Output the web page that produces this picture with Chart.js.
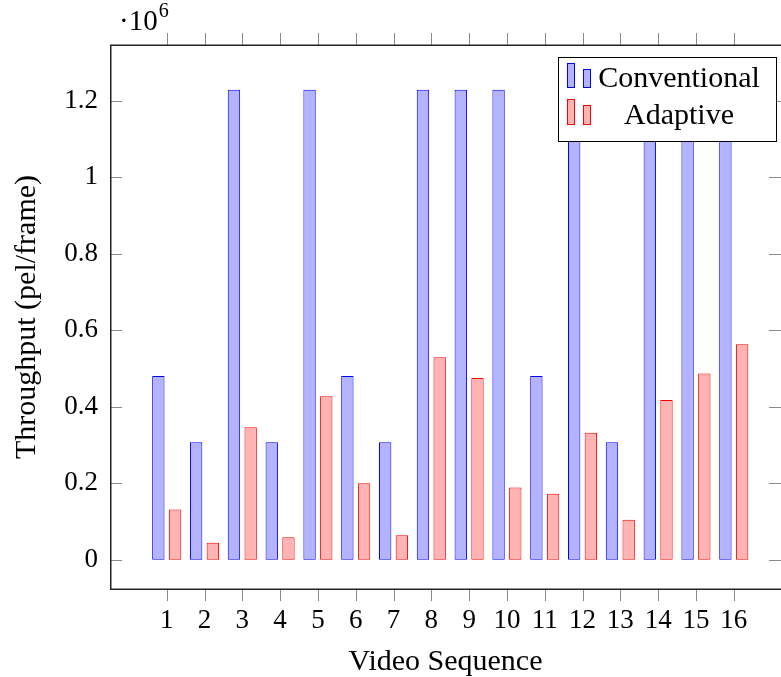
<!DOCTYPE html>
<html>
<head>
<meta charset="utf-8">
<script src="https://cdn.jsdelivr.net/npm/chart.js@4"></script>
<style>
  html, body { margin: 0; padding: 0; background: #fff; }
  #wrap { width: 781px; height: 677px; }
</style>
</head>
<body>
<div id="wrap"><canvas id="myChart" width="781" height="677"></canvas></div>
<script>
// video sequences on the x axis
const sequences = [1, 2, 3, 4, 5, 6, 7, 8, 9, 10, 11, 12, 13, 14, 15, 16];
const xTickLabels = ['1', '2', '3', '4', '5', '6', '7', '8', '9', '10', '11', '12', '13', '14', '15', '16'];

// throughput in pel/frame
const conventional = [480000, 307200, 1228800, 307200, 1228800, 480000, 307200, 1228800,
                      1228800, 1228800, 480000, 1228800, 307200, 1228800, 1228800, 1228800];
const adaptive = [131000, 44500, 346000, 58600, 427000, 199700, 63800, 529000,
                  475000, 189000, 172600, 332000, 104600, 417500, 487000, 563000];

const yTickValues = [0, 200000, 400000, 600000, 800000, 1000000, 1200000];
const yTickLabels = ['0', '0.2', '0.4', '0.6', '0.8', '1', '1.2'];

const seriesNames = ['Conventional', 'Adaptive'];
const FONT = '"Liberation Serif", "DejaVu Serif", serif';

const blueFill = 'rgb(179,179,255)';
const redFill = 'rgb(255,179,179)';

// pgfplots-like frame, ticks, exponent and legend drawn on top
const framePlugin = {
    id: 'frame',
    afterDraw(chart) {
        const c = chart.ctx;
        const a = chart.chartArea;
        const xs = chart.scales.x;
        const ys = chart.scales.y;
        c.save();

        // ticks
        c.strokeStyle = '#8a8a8a';
        c.lineWidth = 1;
        c.beginPath();
        sequences.forEach(v => {
            const px = Math.round(xs.getPixelForValue(v)) + 0.5;
            c.moveTo(px, a.top - 12); c.lineTo(px, a.top);
            c.moveTo(px, a.bottom); c.lineTo(px, a.bottom + 12);
        });
        yTickValues.forEach(v => {
            const py = Math.round(ys.getPixelForValue(v)) + 0.5;
            c.moveTo(a.left, py); c.lineTo(a.left + 12, py);
            c.moveTo(a.right - 12, py); c.lineTo(a.right, py);
        });
        c.stroke();

        // frame
        c.strokeStyle = '#222';
        c.lineWidth = 1.5;
        c.strokeRect(a.left + 0.75, a.top + 0.25, a.right - a.left + 2, a.bottom - a.top);

        // exponent label
        c.fillStyle = '#000';
        c.textBaseline = 'alphabetic';
        c.textAlign = 'left';
        c.font = '29px ' + FONT;
        c.fillText('\u00b710', 119, 30);
        const w = c.measureText('\u00b710').width;
        c.font = '20px ' + FONT;
        c.fillText('6', 119 + w + 1, 17);

        // legend
        const lx = 558, ly = 57, lw = 218, lh = 84;
        c.fillStyle = '#fff';
        c.fillRect(lx, ly, lw, lh);
        c.strokeStyle = '#000';
        c.lineWidth = 1;
        c.strokeRect(lx + 0.5, ly + 0.5, lw, lh);

        const icons = [
            { fill: blueFill, stroke: 'blue', top: 63, bottom: 88 },
            { fill: redFill, stroke: 'red', top: 99, bottom: 125 }
        ];
        icons.forEach((ic, i) => {
            c.fillStyle = ic.fill;
            c.strokeStyle = ic.stroke;
            c.lineWidth = 1;
            c.fillRect(567, ic.top, 8, ic.bottom - ic.top);
            c.strokeRect(567.5, ic.top + 0.5, 7, ic.bottom - ic.top - 1);
            c.fillRect(583, ic.top + 6, 8, ic.bottom - ic.top - 6);
            c.strokeRect(583.5, ic.top + 6.5, 7, ic.bottom - ic.top - 7);

            c.fillStyle = '#000';
            c.font = '30px ' + FONT;
            c.textAlign = 'center';
            c.textBaseline = 'middle';
            c.fillText(seriesNames[i], 679, i === 0 ? 79 : 116);
        });
        c.restore();
    }
};

const ctx = document.getElementById('myChart').getContext('2d');

new Chart(ctx, {
    type: 'bar',
    data: {
        datasets: [
            {
                label: seriesNames[0],
                data: sequences.map((s, i) => ({ x: s, y: conventional[i] })),
                backgroundColor: blueFill,
                borderColor: 'blue',
                borderWidth: 1,
                borderSkipped: false
            },
            {
                label: seriesNames[1],
                data: sequences.map((s, i) => ({ x: s, y: adaptive[i] })),
                backgroundColor: redFill,
                borderColor: 'red',
                borderWidth: 1,
                borderSkipped: false
            }
        ]
    },
    options: {
        responsive: false,
        animation: false,
        devicePixelRatio: 1,
        categoryPercentage: 0.884,
        barPercentage: 0.74,
        layout: { padding: { top: 45, right: 0, left: 0, bottom: 0 } },
        plugins: {
            legend: { display: false },
            tooltip: { enabled: false }
        },
        scales: {
            x: {
                type: 'linear',
                offset: false,
                min: -0.5,
                max: 17.25,
                grid: { display: false, drawTicks: false, offset: false },
                border: { display: false },
                afterBuildTicks: scale => {
                    scale.ticks = sequences.map(v => ({ value: v }));
                },
                afterFit: scale => { scale.height = 88; },
                ticks: {
                    autoSkip: false,
                    maxRotation: 0,
                    padding: 16,
                    color: '#000',
                    font: { family: FONT, size: 27 },
                    callback: (v, i) => xTickLabels[i]
                },
                title: {
                    display: true,
                    text: 'Video Sequence',
                    color: '#000',
                    padding: 0,
                    font: { family: FONT, size: 30, lineHeight: 1.0 }
                }
            },
            y: {
                min: -76600,
                max: 1345600,
                grid: { display: false, drawTicks: false },
                border: { display: false },
                afterBuildTicks: scale => {
                    scale.ticks = yTickValues.map(v => ({ value: v }));
                },
                afterFit: scale => { scale.width = 110; },
                ticks: {
                    padding: 12,
                    color: '#000',
                    font: { family: FONT, size: 27 },
                    callback: (v, i) => yTickLabels[i]
                },
                title: {
                    display: true,
                    text: 'Throughput (pel/frame)',
                    color: '#000',
                    padding: { top: 11, bottom: 0 },
                    font: { family: FONT, size: 30, lineHeight: 1.1 }
                }
            }
        }
    },
    plugins: [framePlugin]
});
</script>
</body>
</html>
